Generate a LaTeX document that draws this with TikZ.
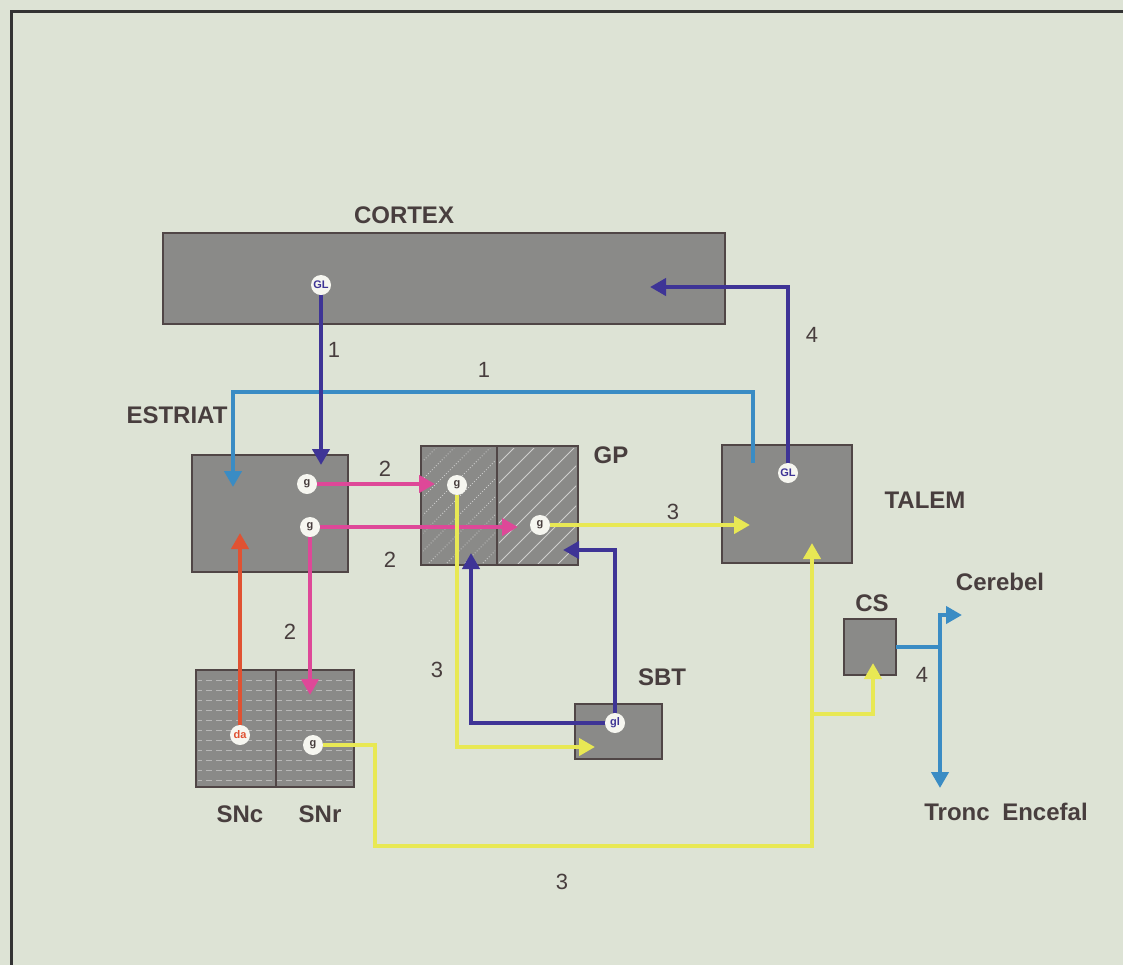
\documentclass[tikz,border=0pt]{standalone}
\usepackage{fontspec}
\setmainfont{Liberation Sans}
\usetikzlibrary{arrows.meta}
\definecolor{bg}{RGB}{221,227,213}
\definecolor{boxfill}{RGB}{138,138,136}
\definecolor{boxline}{RGB}{80,70,70}
\definecolor{txt}{RGB}{72,62,62}
\definecolor{dblue}{RGB}{62,52,150}
\definecolor{lblue}{RGB}{58,140,196}
\definecolor{pinkc}{RGB}{222,72,152}
\definecolor{yelc}{RGB}{232,232,84}
\definecolor{redc}{RGB}{224,82,50}
\definecolor{synfill}{RGB}{246,246,240}
\begin{document}
\begin{tikzpicture}[x=0.5pt,y=-0.5pt,
  box/.style={draw=boxline, line width=1.4pt, fill=boxfill, inner sep=0pt, outer sep=0pt},
  lbl/.style={font=\bfseries\fontsize{12}{12}\selectfont, text=txt, inner sep=0pt},
  num/.style={font=\fontsize{11}{11}\selectfont, text=txt, inner sep=0pt},
  syn/.style={circle, fill=synfill, inner sep=0pt, minimum size=10pt, font=\bfseries\fontsize{5.5}{5.5}\selectfont},
  tip/.style={-{Triangle[length=8pt,width=8.5pt]}},
  cdb/.style={draw=dblue, line width=2.2pt, tip},
  clb/.style={draw=lblue, line width=2.2pt, tip},
  cpk/.style={draw=pinkc, line width=2.2pt, tip},
  cyl/.style={draw=yelc, line width=2.2pt, tip},
  crd/.style={draw=redc, line width=2.2pt, tip},
  tex/.style={draw=white, line width=0.4pt}
]
\fill[bg] (0,0) rectangle (1123,965);
\useasboundingbox (0,0) rectangle (1123,965);
\draw[line width=1.5pt, black!80] (1123,11) -- (11,11) -- (11,965);

% boxes
\node[box, minimum width=281pt, minimum height=45.5pt] (cortex) at (444,278.5) {};
\node[box, minimum width=78pt, minimum height=58.5pt] (estriat) at (270,513.5) {};
\node[box, minimum width=38pt, minimum height=59.5pt] (gpl) at (459,505.5) {};
\node[box, minimum width=40.5pt, minimum height=59.5pt] (gpr) at (537.5,505.5) {};
\node[box, minimum width=65pt, minimum height=59pt] (talem) at (787,504) {};
\node[box, minimum width=43.5pt, minimum height=27.5pt] (sbt) at (618.5,731.5) {};
\node[box, minimum width=26pt, minimum height=28pt] (cs) at (870,647) {};
\node[box, minimum width=40pt, minimum height=58.5pt] (snc) at (236,728.5) {};
\node[box, minimum width=39pt, minimum height=58.5pt] (snr) at (315,728.5) {};

% textures
\begin{scope}
  \clip (423,448) rectangle (495,563);
  \foreach \k in {-120,-102,...,80} \draw[tex, densely dotted, opacity=0.6] (421+\k,565) -- ++(130,-130);
\end{scope}
\begin{scope}
  \clip (499,448) rectangle (576,563);
  \foreach \k in {-120,-100,...,80} \draw[tex, opacity=0.6] (497+\k,565) -- ++(130,-130);
\end{scope}
\begin{scope}
  \clip (198,672) rectangle (352,785);
  \foreach \k in {680,690,...,780} \draw[tex, dash pattern=on 3pt off 2pt, opacity=0.4] (196,\k) -- (354,\k);
\end{scope}
\draw[boxline, line width=1.4pt] (497,446) -- (497,565);
\draw[boxline, line width=1.4pt] (276,670) -- (276,787);

% labels
\node[lbl] (lcortex) at (404,215) {CORTEX};
\node[lbl] (lestriat) at (177,415) {ESTRIAT};
\node[lbl] (lgp) at (611,455) {GP};
\node[lbl] (ltalem) at (925,500) {TALEM};
\node[lbl] (lsbt) at (662,677) {SBT};
\node[lbl] (lcs) at (872,603) {CS};
\node[lbl] (lcereb) at (1000,582) {Cerebel};
\node[lbl] (ltronc) at (1006,812) {Tronc\hspace{3pt} Encefal};
\node[lbl] (lsnc) at (240,814) {SNc};
\node[lbl] (lsnr) at (320,814) {SNr};

% numbers
\node[num] (n1a) at (334,350) {1};
\node[num] (n1b) at (484,370) {1};
\node[num] (n4a) at (812,335) {4};
\node[num] (n2a) at (385,469) {2};
\node[num] (n2b) at (390,560) {2};
\node[num] (n2c) at (290,632) {2};
\node[num] (n3a) at (673,512) {3};
\node[num] (n3b) at (437,670) {3};
\node[num] (n3c) at (562,882) {3};
\node[num] (n4b) at (922,675) {4};

% synapse circles
\node[syn, text=dblue] (glc) at (321,285) {GL};
\node[syn, text=dblue] (glt) at (788,473) {GL};
\node[syn, text=txt] (ge1) at (307,484) {g};
\node[syn, text=txt] (ge2) at (310,527) {g};
\node[syn, text=txt] (ggl) at (457,485) {g};
\node[syn, text=txt] (ggr) at (540,525) {g};
\node[syn, text=dblue] (gls) at (615,723) {gl};
\node[syn, text=redc] (da) at (240,735) {da};
\node[syn, text=txt] (gsn) at (313,745) {g};

% connector end points
\coordinate (tcortexE) at (321,465);
\coordinate (lbstart) at (753,463);
\coordinate (tlbE) at (233,487);
\coordinate (tcortex) at (650,287);
\coordinate (tgpl) at (435,484);
\coordinate (tgpr) at (518,527);
\coordinate (tsnr) at (310,695);
\coordinate (testr) at (240,533);
\coordinate (ttal) at (750,525);
\coordinate (tsbt) at (595,747);
\coordinate (tgpl2) at (471,553);
\coordinate (tgpr2) at (563,550);
\coordinate (ycorner) at (375,846);
\coordinate (ttal2) at (812,543);
\coordinate (ybranch) at (812,714);
\coordinate (tcs) at (873,663);
\coordinate (lbtop) at (940,615);
\coordinate (tcereb) at (962,615);
\coordinate (ttronc) at (940,788);

% connectors
\draw[clb] (lbstart) -- ++(0,-71) -| (tlbE);
\draw[cdb] (glc) -- (tcortexE);
\draw[cdb] (glt) |- (tcortex);
\draw[cpk] (ge1) -- (tgpl);
\draw[cpk] (ge2) -- (tgpr);
\draw[cpk] (ge2) -- (tsnr);
\draw[crd] (da) -- (testr);
\draw[cyl] (ggr) -- (ttal);
\draw[cyl] (ggl) |- (tsbt);
\draw[cdb] (gls) -| (tgpl2);
\draw[cdb] (gls) |- (tgpr2);
\draw[cyl] (gsn) -| (ycorner) -| (ttal2);
\draw[cyl] (ybranch) -| (tcs);
\draw[draw=lblue, line width=2.2pt] (cs.east) -- (cs.east -| lbtop);
\draw[clb, {Triangle[length=8pt,width=8.5pt]}-{Triangle[length=8pt,width=8.5pt]}] (tcereb) -- (lbtop) -- (ttronc);
\end{tikzpicture}
\end{document}
